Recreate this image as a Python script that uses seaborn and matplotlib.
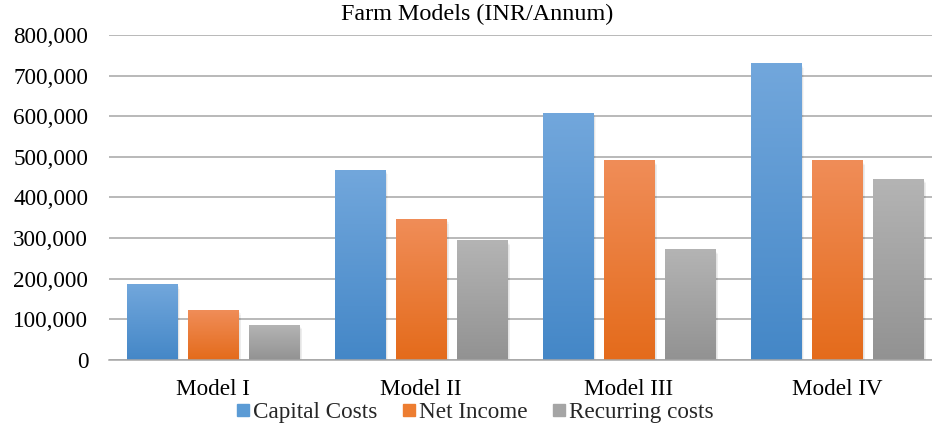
import numpy as np
import pandas as pd
import matplotlib
matplotlib.use("Agg")
import matplotlib.pyplot as plt
import seaborn as sns
from matplotlib.colors import LinearSegmentedColormap
from matplotlib.lines import Line2D
from matplotlib.patches import Rectangle
from matplotlib.ticker import FuncFormatter

# ---- data ----
models = ["Model I", "Model II", "Model III", "Model IV"]
series = ["Capital Costs", "Net Income", "Recurring costs"]
capital_costs = [186000, 467000, 607000, 729000]
net_income = [122000, 346000, 491000, 491000]
recurring_costs = [86000, 293000, 271000, 445000]
yticks = [0, 100000, 200000, 300000, 400000, 500000, 600000, 700000, 800000]

legend_colors = ["#5B9BD5", "#ED7D31", "#A5A5A5"]
grad_top = ["#72A7DC", "#F08D58", "#B4B4B4"]
grad_bot = ["#4487C7", "#E46B1B", "#929292"]

df = pd.DataFrame({
    "Model": models * 3,
    "Series": [series[0]] * 4 + [series[1]] * 4 + [series[2]] * 4,
    "Value": capital_costs + net_income + recurring_costs,
})

sns.set_theme(style="white")
plt.rcParams["font.family"] = ["Liberation Serif", "DejaVu Serif"]

W, H = 932, 426
fig = plt.figure(figsize=(W / 100, H / 100), dpi=100)
ax = fig.add_axes([109 / W, (H - 360) / H, (941 - 109) / W, (360 - 35) / H])

sns.barplot(data=df, x="Model", y="Value", hue="Series", hue_order=series,
            palette=legend_colors, width=0.88, gap=0.18, legend=False, ax=ax,
            zorder=3)

ax.set_ylim(0, 800000)
xlim = ax.get_xlim()

# gradient fill + soft shadow
bars = [p for p in ax.patches if isinstance(p, Rectangle) and p.get_height() > 0]
for i, p in enumerate(bars):
    s = i // 4
    x0, w, h = p.get_x(), p.get_width(), p.get_height()
    cmap = LinearSegmentedColormap.from_list("g", [grad_bot[s], grad_top[s]])
    grad = np.linspace(0, 1, 256).reshape(-1, 1)
    ax.imshow(grad, extent=[x0, x0 + w, 0, h], origin="lower", aspect="auto",
              cmap=cmap, zorder=4, interpolation="bilinear")
    for k in range(1, 5):
        dx = 0.004 * k
        dy = 2500 * k
        ax.add_patch(Rectangle((x0 + dx, -dy), w, h, facecolor="black",
                               alpha=0.035, edgecolor="none", zorder=2.5))
    p.set_visible(False)

ax.set_xlim(xlim)
ax.set_ylim(0, 800000)
ax.set_yticks(yticks)
ax.yaxis.set_major_formatter(FuncFormatter(lambda v, _: f"{int(v):,}"))

ax.grid(axis="y", color="#A6A6A6", linewidth=1.1, zorder=1)
ax.grid(axis="x", visible=False)
for sp in ["top", "right", "left"]:
    ax.spines[sp].set_visible(False)
ax.spines["bottom"].set_color("#A6A6A6")
ax.spines["bottom"].set_linewidth(1.1)
ax.spines["bottom"].set_zorder(6)

ax.tick_params(axis="y", length=0, pad=15, labelsize=16.7, labelcolor="black")
ax.tick_params(axis="x", length=0, pad=13.5, labelsize=16.7, labelcolor="black")
ax.set_xlabel("")
ax.set_ylabel("")

fig.text(477 / W, 1 - 14 / H, "Farm Models (INR/Annum)", ha="center", va="center",
         fontsize=17.4, color="black")

handles = [Line2D([], [], marker="s", linestyle="none", markersize=9.2,
                  markerfacecolor=c, markeredgecolor=c) for c in legend_colors]
fig.legend(handles, series, loc="center", bbox_to_anchor=(474 / W, 1 - 412 / H),
           ncol=3, frameon=False, fontsize=16.7, handletextpad=0.05,
           columnspacing=1.0, handlelength=0.75, borderpad=0, borderaxespad=0)

fig.savefig("out.png", dpi=100)
